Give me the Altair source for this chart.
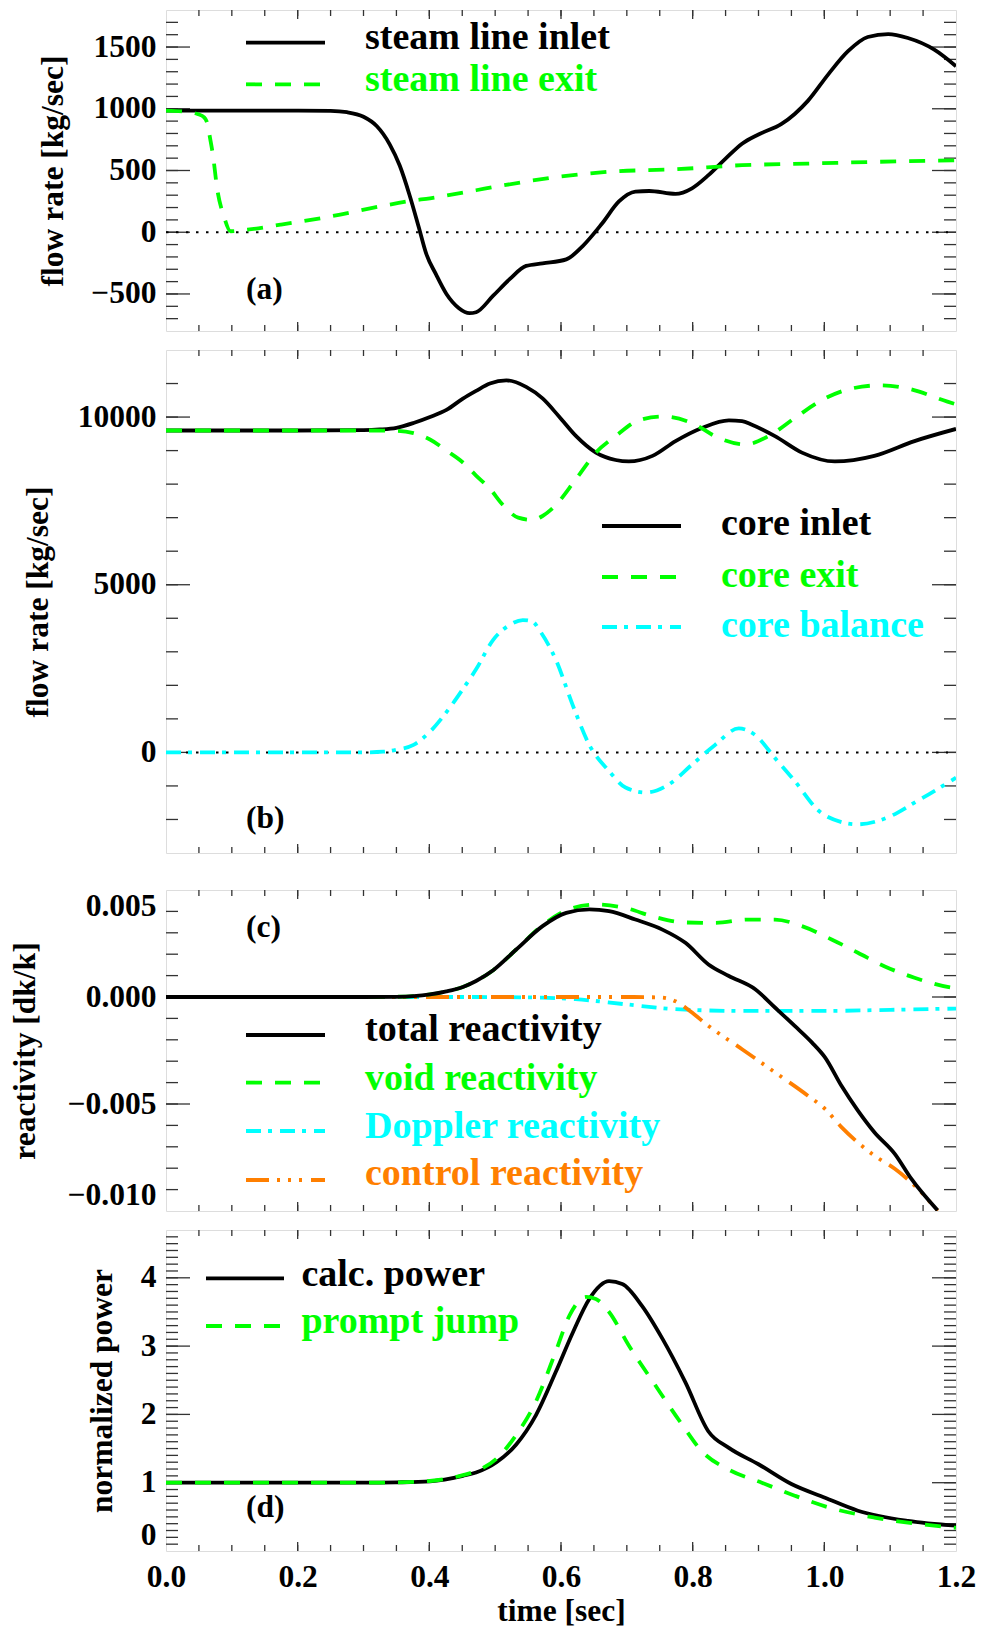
import altair as alt
import numpy as np
import pandas as pd

# ---------------- data ----------------
# (a) steam line
a_inlet_t = [0.0, 0.1, 0.2, 0.25, 0.275, 0.30, 0.32, 0.34, 0.355, 0.37, 0.384, 0.395, 0.41, 0.426,
             0.445, 0.461, 0.471, 0.497, 0.522, 0.547, 0.572, 0.608, 0.633, 0.663, 0.688, 0.713,
             0.734, 0.774, 0.799, 0.824, 0.850, 0.875, 0.900, 0.935, 0.955, 0.975, 1.006, 1.036,
             1.066, 1.097, 1.127, 1.167, 1.2]
a_inlet_v = [985, 985, 985, 983, 972, 935, 860, 710, 540, 300, 40, -170, -340, -500,
             -615, -656, -648, -514, -380, -273, -252, -220, -112, 75, 249, 329,
             334, 310, 356, 462, 596, 717, 792, 877, 958, 1064, 1279, 1466,
             1581, 1605, 1573, 1479, 1345]
a_exit_t = [0.0, 0.03, 0.048, 0.058, 0.063, 0.067, 0.071, 0.078, 0.088, 0.098, 0.124, 0.174,
            0.25, 0.325, 0.372, 0.401, 0.471, 0.502, 0.597, 0.673, 0.774, 0.875, 0.975, 1.076, 1.2]
a_exit_v = [985, 975, 957, 930, 877, 760, 636, 342, 128, 8, 21, 61,
            128, 209, 254, 275, 340, 370, 449, 490, 510, 543, 556, 570, 583]

# (b) core flow
b_inlet_t = [0.0, 0.1, 0.2, 0.3, 0.325, 0.35, 0.376, 0.401, 0.426, 0.451, 0.471, 0.492, 0.517,
             0.547, 0.572, 0.597, 0.623, 0.653, 0.683, 0.703, 0.739, 0.774, 0.814, 0.855, 0.875,
             0.890, 0.925, 0.966, 1.016, 1.076, 1.137, 1.2]
b_inlet_v = [9600, 9600, 9600, 9610, 9630, 9680, 9822, 10000, 10213, 10550, 10780, 11000, 11094,
             10900, 10556, 10018, 9431, 8940, 8720, 8676, 8843, 9284, 9675, 9901, 9880,
             9772, 9431, 8940, 8676, 8843, 9284, 9646]
b_exit_t = [0.0, 0.1, 0.2, 0.3, 0.35, 0.376, 0.401, 0.426, 0.451, 0.471, 0.492, 0.512, 0.535,
            0.557, 0.572, 0.587, 0.623, 0.653, 0.683, 0.718, 0.754, 0.799, 0.839, 0.880, 0.915,
            0.955, 1.001, 1.041, 1.086, 1.127, 1.187, 1.2]
b_exit_v = [9600, 9600, 9600, 9600, 9590, 9520, 9331, 9000, 8646, 8256, 7862, 7374, 7000,
            6933, 7050, 7275, 8156, 8940, 9431, 9901, 10018, 9822, 9381, 9184, 9431,
            9969, 10556, 10850, 10947, 10850, 10459, 10380]
b_bal_t = [0.0, 0.1, 0.2, 0.3, 0.33, 0.35, 0.376, 0.401, 0.426, 0.451, 0.471, 0.497, 0.522,
           0.542, 0.557, 0.567, 0.592, 0.618, 0.643, 0.673, 0.698, 0.729, 0.764, 0.799, 0.834,
           0.870, 0.895, 0.925, 0.955, 0.991, 1.026, 1.051, 1.091, 1.142, 1.2]
b_bal_v = [0, 0, 0, 0, 20, 80, 223, 617, 1200, 1889, 2477, 3358, 3800,
           3946, 3900, 3652, 2771, 1400, 223, -558, -1049, -1196, -951, -364, 223,
           714, 517, -167, -852, -1733, -2077, -2145, -1980, -1440, -755]

# (c) reactivity
c_total_t = [0.0, 0.1, 0.2, 0.3, 0.35, 0.376, 0.401, 0.426, 0.451, 0.471, 0.497, 0.532, 0.572,
             0.608, 0.643, 0.673, 0.713, 0.754, 0.789, 0.824, 0.855, 0.895, 0.925, 0.955, 0.981,
             1.001, 1.026, 1.051, 1.076, 1.107, 1.132, 1.172]
c_total_v = [0.0, 0.0, 0.0, 0.0, 0.00001, 0.00004, 0.00012, 0.00026, 0.00047, 0.00075, 0.00125,
             0.00222, 0.00331, 0.00393, 0.00409, 0.00401, 0.00362, 0.00315, 0.00253, 0.00152,
             0.00098, 0.00036, -0.00049, -0.00135, -0.00212, -0.00282, -0.00415, -0.00531,
             -0.00632, -0.00733, -0.00849, -0.00997]
c_void_t = [0.0, 0.1, 0.2, 0.3, 0.35, 0.376, 0.401, 0.426, 0.451, 0.471, 0.497, 0.532, 0.572,
            0.608, 0.653, 0.698, 0.739, 0.784, 0.834, 0.885, 0.925, 0.966, 1.011, 1.051, 1.091,
            1.137, 1.192, 1.2]
c_void_v = [0.0, 0.0, 0.0, 0.0, 0.00001, 0.00004, 0.00012, 0.00026, 0.00047, 0.00075, 0.00125,
            0.00222, 0.00335, 0.00405, 0.00432, 0.00416, 0.00377, 0.00349, 0.00346, 0.00362,
            0.00362, 0.00331, 0.00269, 0.00207, 0.00144, 0.00090, 0.00044, 0.0004]
c_dop_t = [0.0, 0.3, 0.45, 0.52, 0.572, 0.622, 0.698, 0.774, 0.875, 1.0, 1.1, 1.2]
c_dop_v = [0.0, 0.0, 0.0, -0.00001, -0.00003, -0.0001, -0.00034, -0.00057, -0.00065, -0.00065,
           -0.0006, -0.00054]
c_ctrl_t = [0.0, 0.3, 0.5, 0.7, 0.75, 0.774, 0.787, 0.799, 0.824, 0.875, 0.925, 0.975, 1.001,
            1.026, 1.076, 1.107, 1.142, 1.172]
c_ctrl_v = [0.0, 0.0, 0.0, 0.0, -0.00002, -0.0002, -0.00045, -0.00073, -0.00135, -0.00244,
            -0.00352, -0.00461, -0.00523, -0.00608, -0.00741, -0.00803, -0.00896, -0.01]

# (d) power
d_calc_t = [0.0, 0.1, 0.2, 0.3, 0.35, 0.401, 0.451, 0.471, 0.502, 0.532, 0.562, 0.592, 0.618,
            0.643, 0.673, 0.693, 0.723, 0.754, 0.789, 0.824, 0.855, 0.900, 0.950, 1.001, 1.051,
            1.127, 1.2]
d_calc_v = [1, 1, 1, 1, 1.005, 1.02, 1.10, 1.15, 1.30, 1.56, 1.99, 2.62, 3.20,
            3.69, 3.95, 3.91, 3.59, 3.11, 2.47, 1.75, 1.51, 1.27, 0.98, 0.78, 0.59,
            0.44, 0.37]
d_jump_t = [0.0, 0.1, 0.2, 0.3, 0.35, 0.401, 0.451, 0.471, 0.502, 0.532, 0.562, 0.592, 0.613,
            0.638, 0.653, 0.673, 0.703, 0.743, 0.784, 0.814, 0.855, 0.905, 0.955, 1.006, 1.076,
            1.2]
d_jump_v = [1, 1, 1, 1, 1.005, 1.025, 1.11, 1.17, 1.35, 1.70, 2.19, 2.92, 3.45,
            3.72, 3.69, 3.50, 3.01, 2.43, 1.85, 1.46, 1.19, 1.0, 0.81, 0.64, 0.49,
            0.34]

x_tick_labels = [0.0, 0.2, 0.4, 0.6, 0.8, 1.0, 1.2]
a_ylabels = [-500, 0, 500, 1000, 1500]
b_ylabels = [0, 5000, 10000]
c_ylabels = [-0.010, -0.005, 0.0, 0.005]
d_ylabels = [0, 1, 2, 3, 4]

# ---------------- style ----------------
FONT = "Liberation Serif"
W = 790
HA, HB, HC, HD = 321, 503, 321, 321
LW = 3.8
BLACK, GREEN, CYAN, ORANGE = "#000000", "#00FF00", "#00FFFF", "#FF7F00"
TICK = "#333333"
DASH = [16, 13]
DASHDOT = [15, 7, 4, 8]
DASH3DOT = [23, 8, 3, 8, 3, 8, 3, 9]
DOT = [2.5, 7.5]
FS = 31.5
LEG_FS = 38

XSCALE = alt.Scale(domain=[0, 1.2], nice=False, zero=False)


def yaxis(values, fmt, title, tpad, flush):
    return alt.Axis(values=values, format=fmt, title=title, ticks=False, domain=False, grid=False,
                    labelFont=FONT, labelFontSize=FS, labelFontWeight="bold", labelColor="black",
                    labelPadding=10, labelFlush=flush, labelOverlap=False,
                    titleFont=FONT, titleFontSize=FS, titleFontWeight="bold", titleColor="black",
                    titlePadding=tpad)


def panel(series, ydom, yvals, yfmt, ytitle, tpad, flush, ystep, ymajor, H, xaxis,
          zero_line, legend, leg_line_x, leg_text_x, label, label_y):
    ysc = alt.Scale(domain=ydom, nice=False, zero=False)
    yax = yaxis(yvals, yfmt, ytitle, tpad, flush)

    def X(field="t"):
        return alt.X(f"{field}:Q", scale=XSCALE, axis=xaxis)

    def Y(field="v"):
        return alt.Y(f"{field}:Q", scale=ysc, axis=yax)

    layers = []
    # inward ticks (IDL style) on all four sides
    ymin = np.round(np.arange(ydom[0] + ystep, ydom[1] - ystep / 2, ystep), 6)
    ymaj = [v for v in ymin if abs(v / ymajor - round(v / ymajor)) < 1e-6]
    xmin = np.round(np.arange(0.05, 1.2 - 0.01, 0.05), 4)
    xmaj = [0.2, 0.4, 0.6, 0.8, 1.0]
    tick = dict(color=TICK, strokeWidth=1.3)
    for vals, ln in ((ymin, 12), (ymaj, 24)):
        df = pd.DataFrame({"v": vals})
        layers.append(alt.Chart(df).mark_rule(**tick).encode(y=Y(), x=alt.value(0), x2=alt.value(ln)))
        layers.append(alt.Chart(df).mark_rule(**tick).encode(y=Y(), x=alt.value(W - ln), x2=alt.value(W)))
    for vals, ln in ((xmin, 6), (xmaj, 9)):
        df = pd.DataFrame({"t": vals})
        layers.append(alt.Chart(df).mark_rule(**tick).encode(x=X(), y=alt.value(0), y2=alt.value(ln)))
        layers.append(alt.Chart(df).mark_rule(**tick).encode(x=X(), y=alt.value(H - ln), y2=alt.value(H)))

    if zero_line:
        layers.append(alt.Chart(pd.DataFrame({"v": [0]})).mark_rule(
            color="black", strokeWidth=2, strokeDash=DOT).encode(y=Y(), x=alt.value(0), x2=alt.value(W - 8)))

    for tt, vv, color, dash in series:
        mk = dict(color=color, strokeWidth=LW, clip=True, interpolate="monotone")
        if dash:
            mk["strokeDash"] = dash
        layers.append(alt.Chart(pd.DataFrame({"t": tt, "v": vv})).mark_line(**mk).encode(x=X(), y=Y()))

    one = pd.DataFrame({"k": [0]})
    for txt, color, dash, ly, ty in legend:
        mk = dict(color=color, strokeWidth=LW)
        if dash:
            mk["strokeDash"] = dash
        layers.append(alt.Chart(one).mark_rule(**mk).encode(
            x=alt.value(leg_line_x[0]), x2=alt.value(leg_line_x[1]), y=alt.value(ly)))
        layers.append(alt.Chart(one).mark_text(
            text=txt, align="left", baseline="alphabetic", font=FONT, fontSize=LEG_FS,
            fontWeight="bold", color=color).encode(x=alt.value(leg_text_x), y=alt.value(ty)))

    layers.append(alt.Chart(one).mark_text(
        text=label, align="left", baseline="alphabetic", font=FONT, fontSize=FS,
        fontWeight="bold", color="black").encode(x=alt.value(80), y=alt.value(label_y)))

    return alt.layer(*layers).properties(width=W, height=H)


xaxis_b = alt.Axis(labels=False, ticks=False, domain=False, grid=False, title=" ",
                   titleFontSize=19, titlePadding=0)
xaxis_d = alt.Axis(values=x_tick_labels, format=".1f", title="time [sec]", ticks=False,
                   domain=False, grid=False, labelFont=FONT, labelFontSize=FS,
                   labelFontWeight="bold", labelColor="black", labelPadding=10,
                   labelFlush=False, labelOverlap=False, titleFont=FONT, titleFontSize=FS,
                   titleFontWeight="bold", titleColor="black", titlePadding=2.5)

pa = panel(
    [(a_inlet_t, a_inlet_v, BLACK, None), (a_exit_t, a_exit_v, GREEN, DASH)],
    [-800, 1800], a_ylabels, "d", "flow rate [kg/sec]", 21, False, 100, 500, HA, None, True,
    [("steam line inlet", BLACK, None, 32.6, 39.3), ("steam line exit", GREEN, DASH, 74.3, 81)],
    (80, 159), 199, "(a)", 289)

pb = panel(
    [(b_inlet_t, b_inlet_v, BLACK, None), (b_exit_t, b_exit_v, GREEN, DASH),
     (b_bal_t, b_bal_v, CYAN, DASHDOT)],
    [-3000, 12000], b_ylabels, "d", "flow rate [kg/sec]", 23, False, 1000, 5000, HB, xaxis_b, True,
    [("core inlet", BLACK, None, 176, 185), ("core exit", GREEN, DASH, 227, 237),
     ("core balance", CYAN, DASHDOT, 277, 287)],
    (436, 515), 555, "(b)", 478)

pc = panel(
    [(c_dop_t, c_dop_v, CYAN, DASHDOT), (c_ctrl_t, c_ctrl_v, ORANGE, DASH3DOT),
     (c_void_t, c_void_v, GREEN, DASH), (c_total_t, c_total_v, BLACK, None)],
    [-0.010, 0.005], c_ylabels, ".3f", "reactivity [dk/k]", 26, True, 0.001, 0.005, HC, None, False,
    [("total reactivity", BLACK, None, 145, 151), ("void reactivity", GREEN, DASH, 192.6, 199.5),
     ("Doppler reactivity", CYAN, DASHDOT, 241, 247.5),
     ("control reactivity", ORANGE, DASH3DOT, 290, 295.3)],
    (80, 159), 199, "(c)", 46.6)

pd_ = panel(
    [(d_calc_t, d_calc_v, BLACK, None), (d_jump_t, d_jump_v, GREEN, DASH)],
    [0, 4.7], d_ylabels, "d", "normalized power", 22, True, 0.1, 1, HD, xaxis_d, False,
    [("calc. power", BLACK, None, 48.3, 56), ("prompt jump", GREEN, DASH, 96, 102.6)],
    (40, 118), 135.4, "(d)", 287)

chart = alt.vconcat(pa, pb, pc, pd_, spacing=15).properties(
    padding={"left": 0, "top": 0, "right": 0, "bottom": 0}
).configure_view(stroke="#333333", strokeWidth=1.5).configure(font=FONT)

chart.save("out.html", embed_options={"renderer": "svg", "actions": False})
